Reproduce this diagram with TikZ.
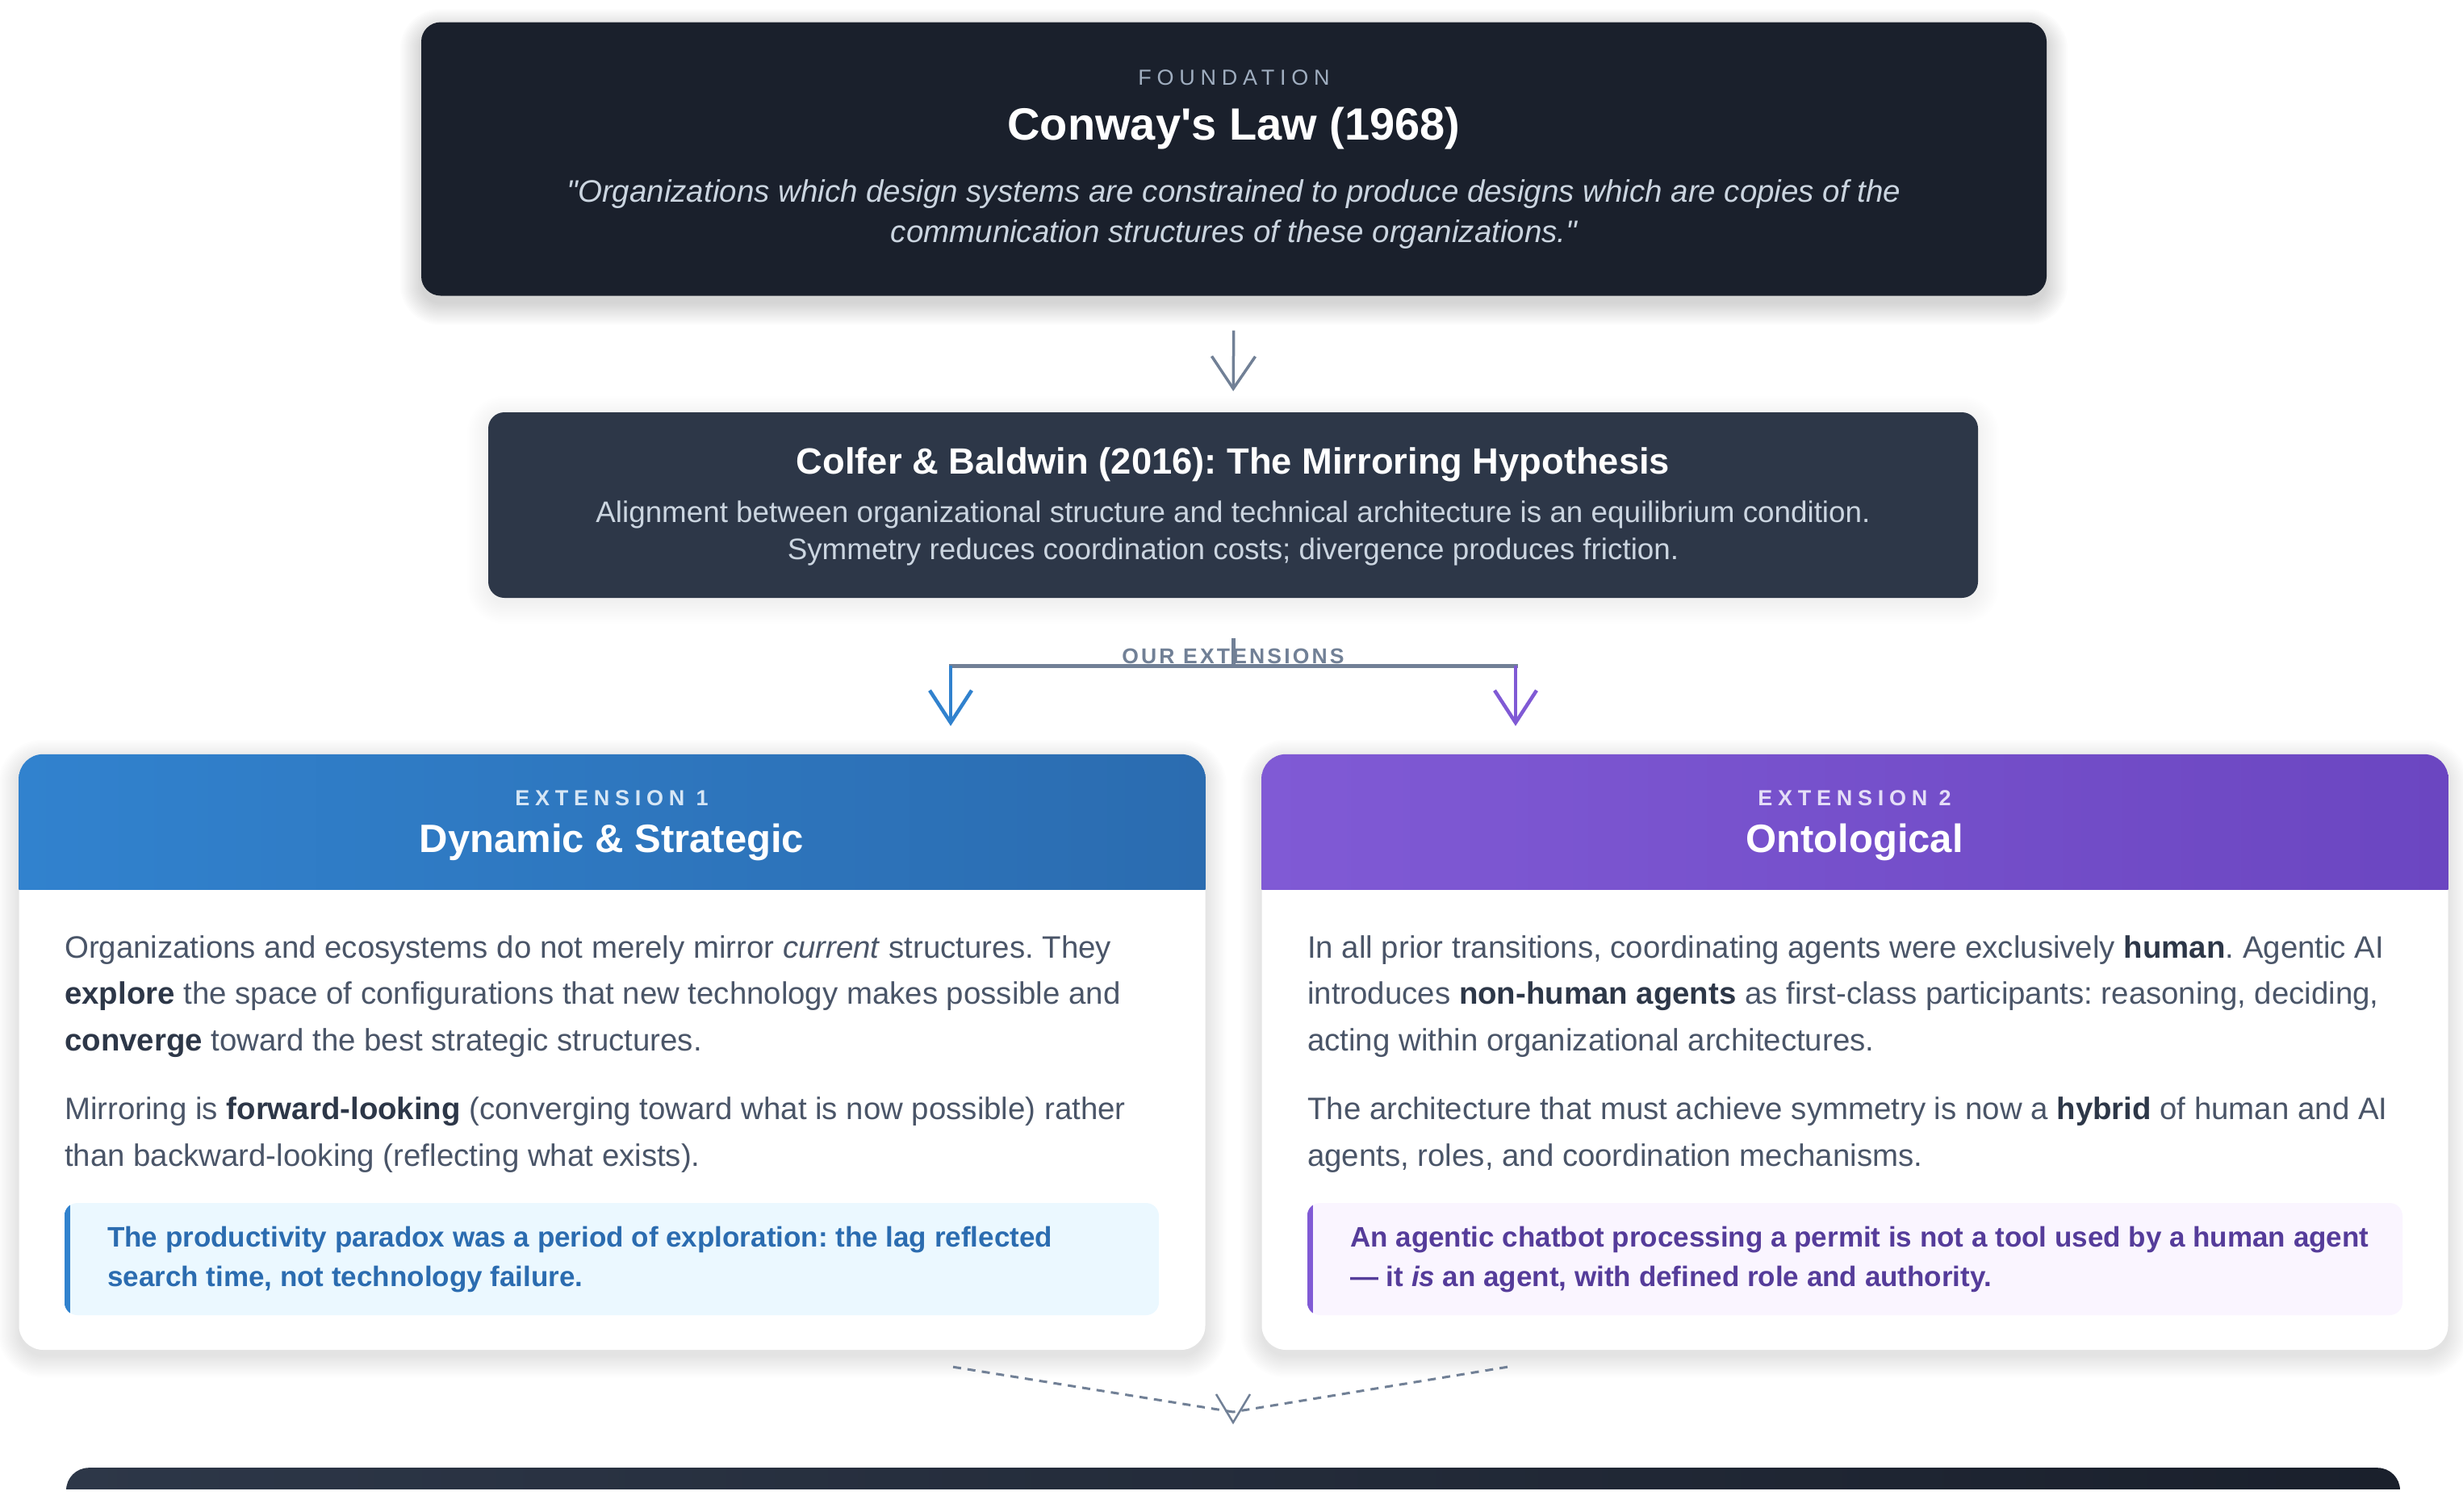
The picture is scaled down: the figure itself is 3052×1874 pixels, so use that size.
\documentclass[tikz,border=0pt]{standalone}
\usepackage{fontspec}
\newfontfamily\lib{Liberation Sans}
\newfontfamily\spacedA{Liberation Sans}[LetterSpace=25]
\newfontfamily\spacedB{Liberation Sans}[LetterSpace=12]
\usetikzlibrary{arrows.meta,calc}
\pgfdeclarelayer{shadowlayer}
\pgfsetlayers{shadowlayer,main}
\definecolor{ink}{HTML}{1A202C}
\definecolor{slate}{HTML}{2D3748}
\definecolor{midtext}{HTML}{4A5568}
\definecolor{grayarrow}{HTML}{718096}
\definecolor{lightgray}{HTML}{A0AEC0}
\definecolor{quotecol}{HTML}{CBD5E0}
\definecolor{blueA}{HTML}{3182CE}
\definecolor{blueB}{HTML}{2B6CB0}
\definecolor{blueBg}{HTML}{EBF8FF}
\definecolor{purA}{HTML}{805AD5}
\definecolor{purB}{HTML}{6B46C1}
\definecolor{purBg}{HTML}{FAF5FF}
\definecolor{purText}{HTML}{553C9A}
\newcommand\hb[1]{{\bfseries\color{slate}#1}}
% soft shadow: #1 node, #2 corner radius, #3 y offset, #4 opacity per layer
\newcommand\shadowfor[4]{%
  \begin{pgfonlayer}{shadowlayer}
  \foreach \k in {0,2,...,26}{%
    \fill[black, fill opacity=#4, rounded corners={(#2+\k)*1pt}]
      ($(#1.north west)+(-\k,-\k+#3)$) rectangle ($(#1.south east)+(\k,\k+#3)$);
  }%
  \end{pgfonlayer}}
\tikzset{
  cardbox/.style={fill=white, rounded corners=30pt, inner sep=0pt},
  darkbox/.style={rounded corners=#1, inner sep=0pt},
  lbl/.style={font=\spacedA\bfseries\fontsize{27}{32}\selectfont, inner sep=0pt, anchor=base},
  bodytxt/.style={font=\lib\fontsize{38.4}{57.5}\selectfont, text=midtext, align=left, inner sep=0pt, anchor=base west},
  callouttxt/.style={font=\lib\bfseries\fontsize{35}{49}\selectfont, align=left, inner sep=0pt, anchor=base west},
  garrow/.style={draw=grayarrow, line width=3.5pt, -{Straight Barb[length=40pt, width=54pt, line width=3.5pt]}},
  carrow/.style={line width=4.5pt, -{Straight Barb[length=40pt, width=52pt, line width=4.5pt]}},
  branch/.style={draw=grayarrow, line width=5pt},
  dashedc/.style={draw=grayarrow, line width=3pt, dash pattern=on 10pt off 8pt},
}
\frenchspacing
\begin{document}
\begin{tikzpicture}[x=1pt, y=-1pt, font=\lib]
\useasboundingbox (0,0) rectangle (3052,1874);
\begin{pgfonlayer}{shadowlayer}
\fill[white] (0,0) rectangle (3052,1874);
\end{pgfonlayer}

% ---------- Conway box ----------
\node[darkbox=24pt, fill=ink, minimum width=2014pt, minimum height=339pt] (conway) at (1529,197) {};
\shadowfor{conway}{24}{10}{0.010}
\node[lbl, font=\spacedA\fontsize{27}{32}\selectfont, text=lightgray] (fnd) at (1529,105) {FOUNDATION};
\node[anchor=base, inner sep=0pt, text=white, font=\lib\bfseries\fontsize{56}{64}\selectfont] (cltitle) at (1529,173) {Conway's Law (1968)};
% anchor=base of a multi-line node = baseline of its last line
\node[anchor=base, inner sep=0pt, align=center, text=quotecol, font=\lib\itshape\fontsize{38.5}{50}\selectfont] (cquote) at (1529,300)
  {"Organizations which design systems are constrained to produce designs which are copies of the\\communication structures of these organizations."};

% ---------- Colfer box ----------
\node[darkbox=20pt, fill=slate, minimum width=1846pt, minimum height=230pt] (colfer) at (1528,626) {};
\shadowfor{colfer}{20}{6}{0.005}
\node[anchor=base, inner sep=0pt, text=white, font=\lib\bfseries\fontsize{45.3}{52}\selectfont] (cbtitle) at (1528,587) {Colfer \& Baldwin (2016): The Mirroring Hypothesis};
\node[anchor=base, inner sep=0pt, align=center, text=quotecol, font=\lib\fontsize{36.8}{46}\selectfont] (cbtext) at (1528,693)
  {Alignment between organizational structure and technical architecture is an equilibrium condition.\\Symmetry reduces coordination costs; divergence produces friction.};

\draw[garrow, shorten <=43pt, shorten >=26pt] (conway.south) -- (colfer.north);

% ---------- Extension cards ----------
\node[cardbox, minimum width=1470pt, minimum height=738pt] (ext1) at (758.5,1304) {};
\node[cardbox, minimum width=1470pt, minimum height=738pt] (ext2) at (2298.5,1304) {};
\shadowfor{ext1}{30}{8}{0.007}
\shadowfor{ext2}{30}{8}{0.007}

\begin{scope}
  \clip[rounded corners=30pt] (ext1.north west) rectangle (ext1.south east);
  \shade[left color=blueA, right color=blueB] (ext1.north west) rectangle ($(ext1.north east)+(0,168)$);
\end{scope}
\begin{scope}
  \clip[rounded corners=30pt] (ext2.north west) rectangle (ext2.south east);
  \shade[left color=purA, right color=purB] (ext2.north west) rectangle ($(ext2.north east)+(0,168)$);
\end{scope}

% branch
\node[anchor=base, inner sep=0pt, text=grayarrow, font=\spacedB\bfseries\fontsize{26.5}{30}\selectfont] (ourext) at (1528,822) {OUR EXTENSIONS};
\coordinate (stub) at ($(colfer.south)+(0,50)$);
\coordinate (fork) at ($(colfer.south)+(0,84)$);
\coordinate (forkL) at ($(fork)+(-350,0)$);
\coordinate (forkR) at ($(fork)+(350,0)$);
\draw[branch] (stub) -- (fork);
\draw[branch, line cap=rect] (forkL) -- (forkR);
\draw[carrow, draw=blueA, shorten >=35pt] (forkL) -- (forkL |- ext1.north);
\draw[carrow, draw=purA, shorten >=35pt] (forkR) -- (forkR |- ext2.north);

% header texts
\node[lbl, text=white!80!blueA] (e1lbl) at (758,998) {EXTENSION 1};
\node[anchor=base, inner sep=0pt, text=white, font=\lib\bfseries\fontsize{49}{56}\selectfont] (e1title) at (758,1056) {Dynamic \& Strategic};
\node[lbl, text=white!80!purA] (e2lbl) at (2298,998) {EXTENSION 2};
\node[anchor=base, inner sep=0pt, text=white, font=\lib\bfseries\fontsize{49}{56}\selectfont] (e2title) at (2298,1056) {Ontological};

% body left (last-line baselines)
\node[bodytxt] (e1p1) at (80,1302) {Organizations and ecosystems do not merely mirror \textit{current} structures. They\\
\hb{explore} the space of configurations that new technology makes possible and\\
\hb{converge} toward the best strategic structures.};
\node[bodytxt] (e1p2) at (80,1445) {Mirroring is \hb{forward-looking} (converging toward what is now possible) rather\\
than backward-looking (reflecting what exists).};

% callout left
\node[fill=blueBg, rounded corners=16pt, minimum width=1356pt, minimum height=139pt, inner sep=0pt] (co1) at (758,1560.5) {};
\begin{scope}
  \clip[rounded corners=16pt] (co1.north west) rectangle (co1.south east);
  \fill[blueA] (co1.north west) rectangle ($(co1.south west)+(7,0)$);
\end{scope}
\node[callouttxt, text=blueB] (co1t) at (133,1594) {The productivity paradox was a period of exploration: the lag reflected\\search time, not technology failure.};

% body right
\node[bodytxt] (e2p1) at (1620,1302) {In all prior transitions, coordinating agents were exclusively \hb{human}. Agentic AI\\
introduces \hb{non-human agents} as first-class participants: reasoning, deciding,\\
acting within organizational architectures.};
\node[bodytxt] (e2p2) at (1620,1445) {The architecture that must achieve symmetry is now a \hb{hybrid} of human and AI\\
agents, roles, and coordination mechanisms.};

% callout right
\node[fill=purBg, rounded corners=16pt, minimum width=1357pt, minimum height=139pt, inner sep=0pt] (co2) at (2298.5,1560.5) {};
\begin{scope}
  \clip[rounded corners=16pt] (co2.north west) rectangle (co2.south east);
  \fill[purA] (co2.north west) rectangle ($(co2.south west)+(7,0)$);
\end{scope}
\node[callouttxt, text=purText] (co2t) at (1673,1594) {An agentic chatbot processing a permit is not a tool used by a human agent\\— it \textit{is} an agent, with defined role and authority.};

% ---------- bottom box (cut off) ----------
\begin{scope}
  \clip (0,0) rectangle (3052,1845);
  \node[anchor=north, rounded corners=28pt, minimum width=2892pt, minimum height=120pt, inner sep=0pt, left color=slate, right color=ink] (syn) at (1528,1819) {};
\end{scope}

% dashed merge
\coordinate (dl) at ($(forkL |- ext1.south)+(3,21)$);
\coordinate (dr) at ($(forkR |- ext2.south)+(-10,21)$);
\coordinate (merge) at (1528,1750);
\draw[dashedc] (dl) -- (merge);
\draw[dashedc] (dr) -- (merge);
\draw[draw=grayarrow, line width=2.5pt, line join=miter] ($(merge)+(-21,-22)$) -- ($(merge)+(0,13)$) -- ($(merge)+(21,-22)$);
\end{tikzpicture}
\end{document}
